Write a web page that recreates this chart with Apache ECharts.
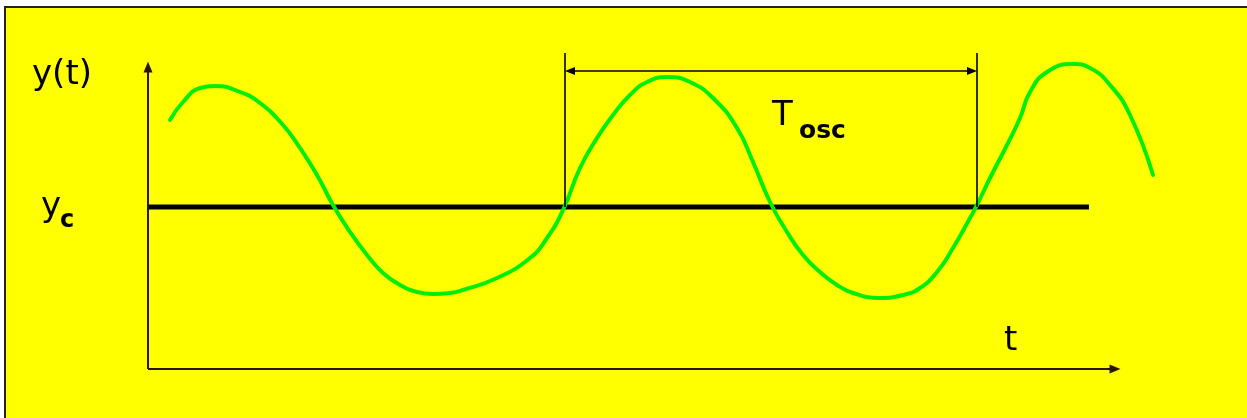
<!DOCTYPE html>
<html>
<head>
<meta charset="utf-8">
<script src="https://cdn.jsdelivr.net/npm/echarts@6/dist/echarts.min.js"></script>
<style>
  html, body { margin: 0; padding: 0; background: #ffffff; width: 1247px; height: 418px; overflow: hidden; }
  #frame { position: absolute; left: 4px; top: 6px; width: 1243px; height: 412px; background: #ffff00; border-left: 2px solid #222; border-top: 2px solid #222; }
  #chart { position: absolute; left: 0; top: 0; width: 1247px; height: 418px; }
</style>
</head>
<body>
<div id="frame"></div>
<div id="chart"></div>
<script>
// Oscillating response y(t) around the set value y_c (t and y in arbitrary units; y measured from y_c)
const respT = [0.22, 0.35, 0.52, 0.67, 0.92, 1.12, 1.35, 1.52, 1.69, 1.85, 2.02, 2.19, 2.35, 2.52, 2.69, 2.85, 3.02, 3.15, 3.49, 3.82, 3.99, 4.15, 4.32, 4.49, 4.65, 4.82, 4.99, 5.20, 5.42, 5.65, 5.89, 6.05, 6.22, 6.39, 6.55, 6.72, 6.89, 7.05, 7.32, 7.55, 7.72, 7.89, 8.05, 8.22, 8.29, 8.42, 8.59, 8.72, 8.82, 8.99, 9.25, 9.42, 9.62, 9.82, 10.05];
const respY = [0.87, 1.05, 1.19, 1.21, 1.15, 1.04, 0.82, 0.59, 0.32, 0.02, -0.25, -0.48, -0.66, -0.78, -0.85, -0.87, -0.86, -0.83, -0.71, -0.51, -0.31, -0.03, 0.39, 0.69, 0.92, 1.12, 1.25, 1.30, 1.25, 1.09, 0.79, 0.45, 0.05, -0.25, -0.48, -0.65, -0.78, -0.86, -0.91, -0.88, -0.81, -0.65, -0.41, -0.11, 0.02, 0.29, 0.62, 0.89, 1.15, 1.35, 1.43, 1.39, 1.22, 0.92, 0.32];
// set value line y_c
const setT = [0, 9.41];
const setY = [0, 0];
// period markers
const periodStart = 4.17;
const periodEnd = 8.29;
const markerTop = 1.54;
const arrowLevel = 1.36;
// drawn axes (arrows)
const axisTEnd = 9.67;
const axisYEnd = 1.40;
// plotting ranges
const tMin = 0, tMax = 10.12;
const yMin = -1.62, yMax = 1.60;

const chart = echarts.init(document.getElementById('chart'), null, { renderer: 'canvas' });

const respData = respT.map((t, i) => [t, respY[i]]);
const setData = setT.map((t, i) => [t, setY[i]]);
const inset = 0.05;
const axisColor = '#2a1500';

const option = {
  backgroundColor: 'transparent',
  animation: false,
  grid: { left: 148, right: 87, top: 47, bottom: 49 },
  xAxis: {
    type: 'value', min: tMin, max: tMax,
    axisLine: { show: false }, axisTick: { show: false }, axisLabel: { show: false }, splitLine: { show: false }
  },
  yAxis: {
    type: 'value', min: yMin, max: yMax,
    axisLine: { show: false }, axisTick: { show: false }, axisLabel: { show: false }, splitLine: { show: false }
  },
  series: [
    {
      type: 'line', data: setData, showSymbol: false, symbol: 'none',
      lineStyle: { color: '#000000', width: 5, cap: 'butt' },
      silent: true, z: 2,
      markLine: {
        silent: true, animation: false, symbol: ['none', 'none'],
        label: { show: false },
        lineStyle: { color: '#000000', width: 1.6, type: 'solid' },
        data: [
          [{ coord: [periodStart, markerTop] }, { coord: [periodStart, 0] }],
          [{ coord: [periodEnd, markerTop] }, { coord: [periodEnd, 0] }]
        ]
      }
    },
    {
      type: 'line', data: [], showSymbol: false, silent: true,
      markLine: {
        silent: true, animation: false, symbol: ['triangle', 'triangle'], symbolSize: [8, 10],
        label: { show: false },
        lineStyle: { color: '#000000', width: 1.5, type: 'solid' },
        data: [
          [{ coord: [periodStart + inset, arrowLevel] }, { coord: [periodEnd - inset, arrowLevel] }]
        ]
      }
    },
    {
      type: 'line', data: [], showSymbol: false, silent: true,
      markLine: {
        silent: true, animation: false, symbol: ['none', 'triangle'], symbolSize: [9, 11],
        label: { show: false },
        lineStyle: { color: axisColor, width: 2, type: 'solid' },
        data: [
          [{ coord: [tMin, yMin] }, { coord: [axisTEnd, yMin] }],
          [{ coord: [tMin, yMin] }, { coord: [tMin, axisYEnd] }]
        ]
      }
    },
    {
      type: 'line', data: respData, smooth: 0.5, showSymbol: false, symbol: 'none', clip: false,
      lineStyle: { color: '#00ee00', width: 4, cap: 'round' }, silent: true, z: 3
    }
  ],
  graphic: [
    { type: 'text', style: { text: 'y(t)', x: 32, y: 75, font: '34px "DejaVu Sans"', fill: '#000', verticalAlign: 'middle' } },
    { type: 'text', style: { text: 'y', x: 41, y: 207, font: '34px "DejaVu Sans"', fill: '#000', verticalAlign: 'middle' } },
    { type: 'text', style: { text: 'c', x: 60, y: 221, font: 'bold 24px "DejaVu Sans"', fill: '#000', verticalAlign: 'middle' } },
    { type: 'text', style: { text: 'T', x: 772, y: 116, font: '34px "DejaVu Sans"', fill: '#000', verticalAlign: 'middle' } },
    { type: 'text', style: { text: 'osc', x: 799, y: 131, font: 'bold 25px "DejaVu Sans"', fill: '#000', verticalAlign: 'middle' } },
    { type: 'text', style: { text: 't', x: 1004, y: 341, font: '34px "DejaVu Sans"', fill: '#000', verticalAlign: 'middle' } }
  ]
};
chart.setOption(option);
</script>
</body>
</html>
